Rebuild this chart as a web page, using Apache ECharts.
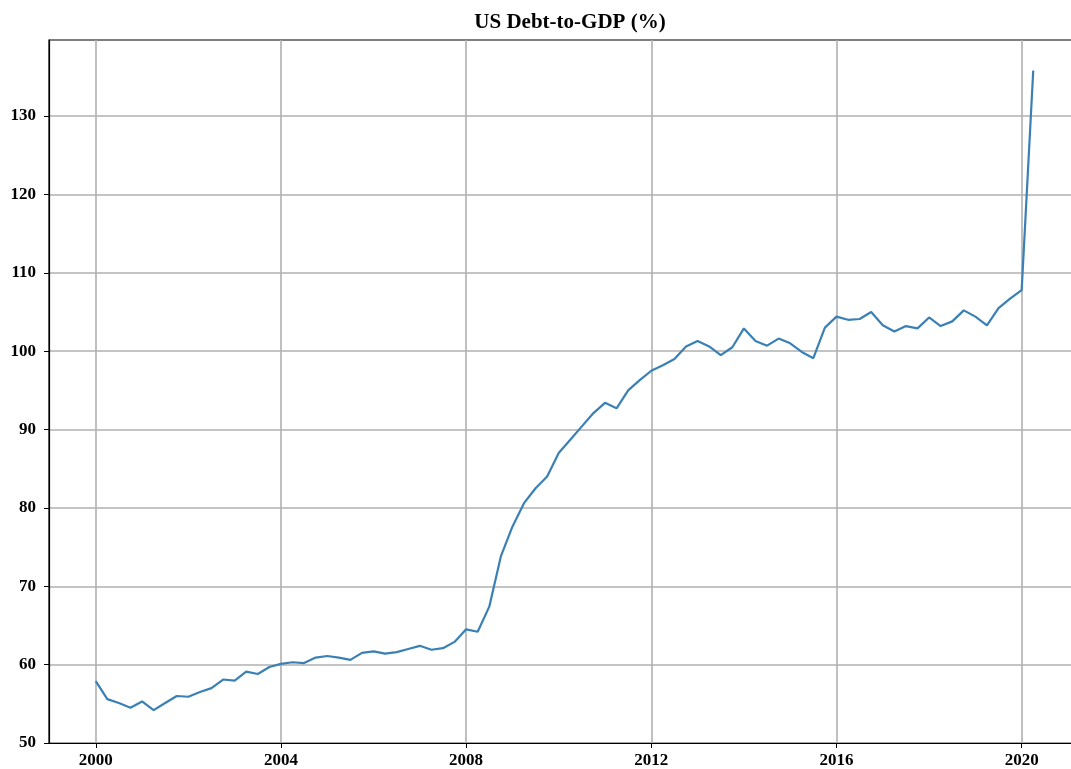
<!DOCTYPE html>
<html>
<head>
<meta charset="utf-8">
<script src="https://cdn.jsdelivr.net/npm/echarts@6/dist/echarts.min.js"></script>
<style>html,body{margin:0;padding:0;background:#fff;overflow:hidden;}#chart{width:1071px;height:769px;}</style>
</head>
<body>
<div id="chart"></div>
<script>
const startYear = 2000;
const quarterStep = 0.25;
const debtToGDP = [
  57.9, 55.6, 55.1, 54.5, 55.3, 54.2, 55.1, 56.0, 55.9, 56.5, 57.0, 58.1, 57.95, 59.1, 58.8, 59.7,
  60.1, 60.3, 60.2, 60.9, 61.1, 60.9, 60.6, 61.5, 61.7, 61.4, 61.6, 62.0, 62.4, 61.9, 62.1, 62.9,
  64.5, 64.2, 67.4, 73.8, 77.6, 80.6, 82.5, 84.0, 87.0, 88.7, 90.4, 92.1, 93.4, 92.7, 95.0, 96.3,
  97.5, 98.2, 99.0, 100.6, 101.3, 100.6, 99.5, 100.5, 102.9, 101.3, 100.7, 101.6, 101.0, 99.9, 99.1, 103.0,
  104.4, 104.0, 104.1, 105.0, 103.3, 102.5, 103.2, 102.9, 104.3, 103.2, 103.8, 105.2, 104.4, 103.3, 105.5, 106.7,
  107.8, 135.8
];
const xTicks = [2000, 2004, 2008, 2012, 2016, 2020];
const yTicks = [50, 60, 70, 80, 90, 100, 110, 120, 130];
const titleText = 'US Debt-to-GDP (%)';

const seriesData = debtToGDP.map((v, i) => [startYear + i * quarterStep, v]);

const chart = echarts.init(document.getElementById('chart'), null, {renderer: 'canvas'});
const font = 'Liberation Serif';
chart.setOption({
  animation: false,
  backgroundColor: '#ffffff',
  title: {
    text: titleText,
    left: 565, top: 7, textAlign: 'center',
    textStyle: {fontFamily: font, fontWeight: 'bold', fontSize: 21, color: '#000'}
  },
  grid: {
    left: 49, top: 40, width: 1031, height: 703,
    outerBoundsMode: 'none', containLabel: false,
    show: true, borderColor: '#000', borderWidth: 1.2, backgroundColor: 'transparent'
  },
  xAxis: {
    type: 'value',
    min: 1998.99, max: 2021.26,
    axisLine: {show: true, lineStyle: {color: '#000', width: 1.2}},
    axisTick: {show: true, length: 5, customValues: xTicks, lineStyle: {color: '#000'}},
    axisLabel: {customValues: xTicks, margin: 9, fontFamily: font, fontWeight: 'bold', fontSize: 17, color: '#000',
      formatter: v => String(v)},
    splitLine: {show: true, lineStyle: {color: '#b0b0b0', width: 1.6}}
  },
  yAxis: {
    type: 'value',
    min: 50, max: 139.7,
    axisLine: {show: true, lineStyle: {color: '#000', width: 1.2}},
    axisTick: {show: true, length: 5, customValues: yTicks, lineStyle: {color: '#000'}},
    axisLabel: {customValues: yTicks, margin: 13, fontFamily: font, fontWeight: 'bold', fontSize: 17, color: '#000'},
    splitLine: {show: true, lineStyle: {color: '#b0b0b0', width: 1.6}}
  },
  series: [{
    type: 'line',
    data: seriesData,
    showSymbol: false,
    lineStyle: {color: '#3a80b5', width: 2.2},
    z: 3
  }]
});
</script>
</body>
</html>
